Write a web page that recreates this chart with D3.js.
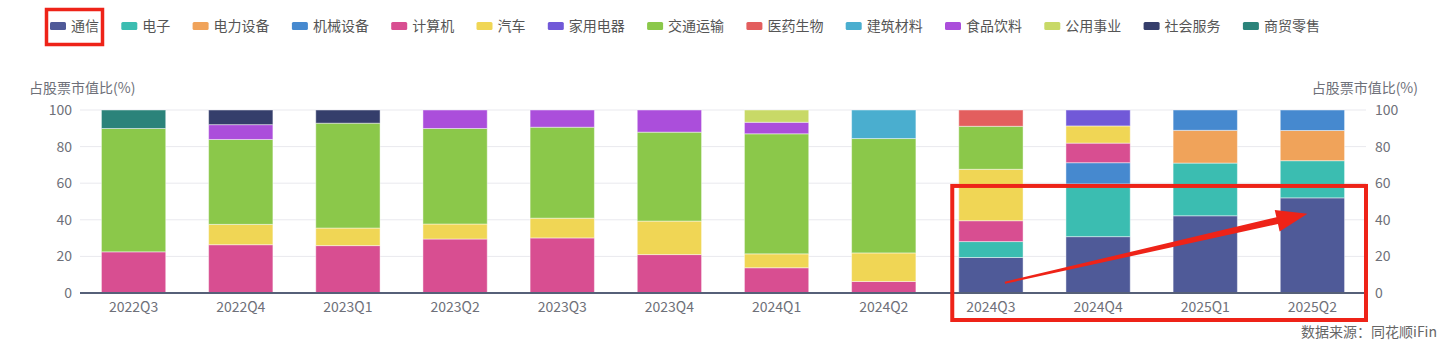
<!DOCTYPE html>
<html>
<head>
<meta charset="utf-8">
<script src="https://cdn.jsdelivr.net/npm/d3@7/dist/d3.min.js"></script>
<style>
  html, body { margin: 0; padding: 0; background: #fff; }
  svg { display: block; font-family: "Microsoft YaHei", "Noto Sans CJK SC", "Noto Sans", sans-serif; }
</style>
</head>
<body>
<svg id="chart" width="1440" height="340"></svg>
<script>
// ---- data ----
const categories = ["2022Q3","2022Q4","2023Q1","2023Q2","2023Q3","2023Q4","2024Q1","2024Q2","2024Q3","2024Q4","2025Q1","2025Q2"];
const seriesNames = ["通信","电子","电力设备","机械设备","计算机","汽车","家用电器","交通运输","医药生物","建筑材料","食品饮料","公用事业","社会服务","商贸零售"];
const tongxin   = [0,0,0,0,0,0,0,0,19.4,30.8,42.2,52.0];
const dianzi    = [0,0,0,0,0,0,0,0,8.7,28.8,28.8,20.3];
const dianli    = [0,0,0,0,0,0,0,0,0,0,17.9,16.5];
const jixie     = [0,0,0,0,0,0,0,0,0,11.6,11.1,11.2];
const jisuanji  = [22.5,26.4,25.9,29.5,30.1,21.0,13.8,6.3,11.4,10.7,0,0];
const qiche     = [0,11.1,9.6,8.2,10.8,18.3,7.6,15.6,28.1,9.4,0,0];
const jiadian   = [0,0,0,0,0,0,0,0,0,8.7,0,0];
const jiaotong  = [67.4,46.4,57.3,52.2,49.7,48.6,65.6,62.5,23.5,0,0,0];
const yiyao     = [0,0,0,0,0,0,0,0,8.9,0,0,0];
const jiancai   = [0,0,0,0,0,0,0,15.6,0,0,0,0];
const shipin    = [0,8.1,0,10.1,9.4,12.1,6.3,0,0,0,0,0];
const gongyong  = [0,0,0,0,0,0,6.7,0,0,0,0,0];
const shehui    = [0,8.0,7.2,0,0,0,0,0,0,0,0,0];
const shangmao  = [10.1,0,0,0,0,0,0,0,0,0,0,0];
const seriesValues = [tongxin,dianzi,dianli,jixie,jisuanji,qiche,jiadian,jiaotong,yiyao,jiancai,shipin,gongyong,shehui,shangmao];
const colors = ["#4f5a98","#3bbdb1","#f0a35a","#4689cf","#d84e91","#f0d655","#7159d8","#8bc84a","#e35e5e","#4aaecf","#ab4edb","#c8d967","#353e6b","#2b837a"];
const yTicks = [0,20,40,60,80,100];
const axisTitle = "占股票市值比(%)";
const sourceText = "数据来源：同花顺iFin";

(function () {
// ---- layout ----
const svg = d3.select("#chart");
const pL = 80, pR = 1366, pT = 110, pB = 293;

const x = d3.scaleBand().domain(categories).range([pL, pR]).paddingInner(0.4).paddingOuter(0.2);
const y = d3.scaleLinear().domain([0, 100]).range([pB, pT]);
const tickFont = "'Microsoft YaHei','Noto Sans CJK SC',sans-serif";

// grid
svg.append("g").selectAll("line").data(yTicks.filter(t => t > 0)).join("line")
  .attr("x1", pL).attr("x2", pR)
  .attr("y1", d => y(d)).attr("y2", d => y(d))
  .attr("stroke", "#e9e9ee").attr("stroke-width", 1);

// stacked data
const rows = categories.map((c, i) => {
  const r = { cat: c };
  seriesNames.forEach((s, k) => r[s] = seriesValues[k][i]);
  return r;
});
const stack = d3.stack().keys(seriesNames)(rows);

svg.append("g").selectAll("g").data(stack).join("g")
  .attr("fill", (d, i) => colors[i])
  .selectAll("rect").data(d => d.filter(p => p[1] - p[0] > 0)).join("rect")
  .attr("x", d => x(d.data.cat))
  .attr("width", x.bandwidth())
  .attr("y", d => y(d[1]))
  .attr("height", d => y(d[0]) - y(d[1]))
  .attr("stroke", "rgba(255,255,255,0.45)").attr("stroke-width", 1);

// x axis
const xAxis = svg.append("g").attr("transform", `translate(0,${pB})`)
  .call(d3.axisBottom(x).tickSize(0).tickPadding(9));
xAxis.select(".domain").attr("stroke", "#566078").attr("stroke-width", 2)
  .attr("d", `M${pL},0H${pR}`);
xAxis.selectAll("text").attr("fill", "#6e7079").style("font-size", "14px").style("font-family", tickFont);

// y axes
const yl = svg.append("g").attr("transform", `translate(${pL},0)`)
  .call(d3.axisLeft(y).tickValues(yTicks).tickSize(0).tickPadding(8));
yl.select(".domain").remove();
yl.selectAll("text").attr("fill", "#6e7079").style("font-size", "14px").style("font-family", tickFont);

const yr = svg.append("g").attr("transform", `translate(${pR},0)`)
  .call(d3.axisRight(y).tickValues(yTicks).tickSize(0).tickPadding(9));
yr.select(".domain").remove();
yr.selectAll("text").attr("fill", "#6e7079").style("font-size", "14px").style("font-family", tickFont);

// axis titles
svg.append("text").attr("x", 29).attr("y", 93).attr("fill", "#6e7079")
  .style("font-size", "14px").text(axisTitle);
svg.append("text").attr("x", 1418).attr("y", 93).attr("fill", "#6e7079")
  .attr("text-anchor", "end").style("font-size", "14px").text(axisTitle);

// source
svg.append("text").attr("x", 1437).attr("y", 337).attr("fill", "#666")
  .attr("text-anchor", "end").style("font-size", "14px").text(sourceText);

// legend
const legend = svg.append("g");
let lx = 50;
seriesNames.forEach((name, i) => {
  const g = legend.append("g").attr("transform", `translate(${lx},0)`);
  g.append("rect").attr("x", 0).attr("y", 22).attr("width", 16).attr("height", 8)
    .attr("rx", 1.5).attr("fill", colors[i]);
  const t = g.append("text").attr("x", 21).attr("y", 31).attr("fill", "#555")
    .style("font-size", "14px").text(name);
  lx += 21 + t.node().getComputedTextLength() + 22.3;
});

// annotations (red)
const red = "#ee2318";
svg.append("rect").attr("x", 46.5).attr("y", 9.5).attr("width", 56).attr("height", 35)
  .attr("fill", "none").attr("stroke", red).attr("stroke-width", 3.5);

const bx0 = x("2024Q3") - 6.5, bx1 = pR;
svg.append("rect").attr("x", bx0).attr("y", y(58.5)).attr("width", bx1 - bx0).attr("height", 320 - y(58.5))
  .attr("fill", "none").attr("stroke", red).attr("stroke-width", 4);

// arrow
const sx = x("2024Q3") + x.bandwidth() / 2 + 14, sy = y(5.6);
const tx = x("2025Q2") + x.bandwidth() / 2 - 5, ty = y(43.3);
const dx = tx - sx, dy = ty - sy, L = Math.hypot(dx, dy);
const ux = dx / L, uy = dy / L, nx = -uy, ny = ux;
const headLen = 31, headHalf = 11, w0 = 1, w1 = 3.5;
const hbx = tx - ux * headLen, hby = ty - uy * headLen;
const pts = [
  [sx + nx * w0, sy + ny * w0],
  [hbx + nx * w1, hby + ny * w1],
  [hbx + nx * headHalf, hby + ny * headHalf],
  [tx, ty],
  [hbx - nx * headHalf, hby - ny * headHalf],
  [hbx - nx * w1, hby - ny * w1],
  [sx - nx * w0, sy - ny * w0]
];
svg.append("polygon").attr("points", pts.map(p => p.join(",")).join(" ")).attr("fill", red);
})();
</script>
</body>
</html>
